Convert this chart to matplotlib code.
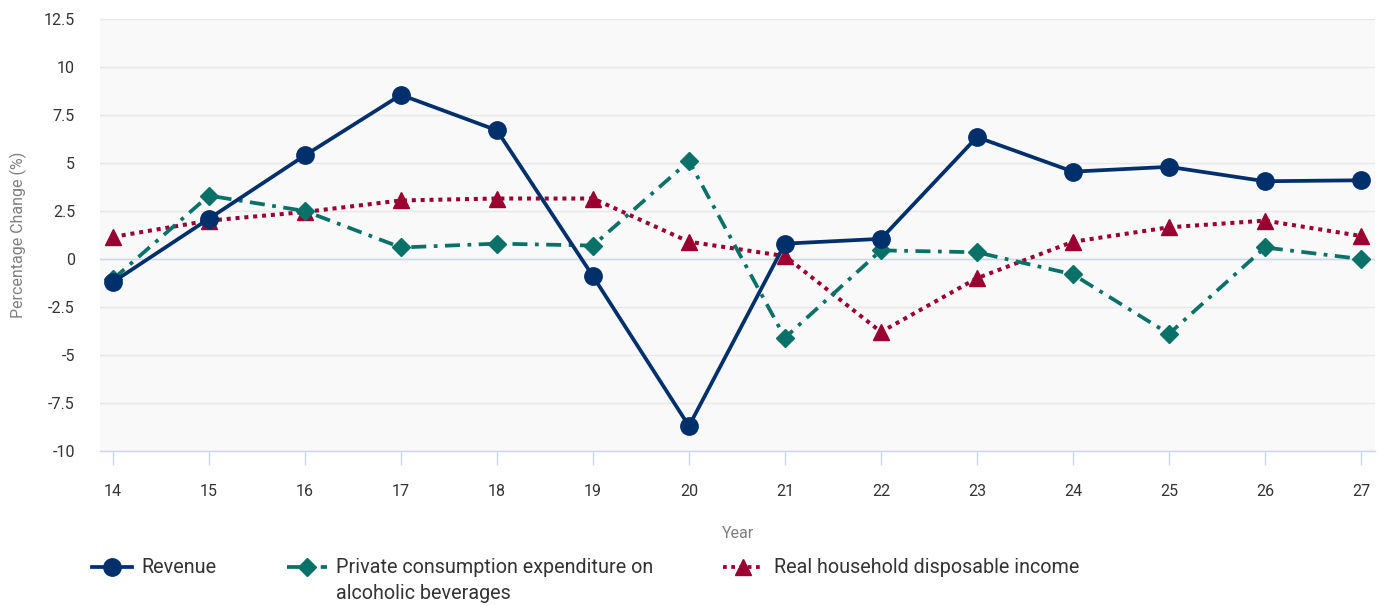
import matplotlib
matplotlib.use("Agg")
import matplotlib.pyplot as plt
from matplotlib.lines import Line2D

plt.rcParams['font.family'] = ['Roboto', 'DejaVu Sans']

years = [14, 15, 16, 17, 18, 19, 20, 21, 22, 23, 24, 25, 26, 27]
revenue = [-1.2, 2.1, 5.4, 8.55, 6.7, -0.9, -8.7, 0.8, 1.05, 6.35, 4.55, 4.8, 4.05, 4.1]
private_consumption = [-1.05, 3.3, 2.5, 0.6, 0.8, 0.7, 5.1, -4.1, 0.45, 0.35, -0.8, -3.9, 0.6, 0.0]
real_income = [1.15, 2.0, 2.45, 3.05, 3.15, 3.15, 0.9, 0.15, -3.8, -1.0, 0.9, 1.65, 2.0, 1.2]
yticks = [-10, -7.5, -5, -2.5, 0, 2.5, 5, 7.5, 10, 12.5]
ytick_labels = ["-10", "-7.5", "-5", "-2.5", "0", "2.5", "5", "7.5", "10", "12.5"]
labels = ["Revenue", "Private consumption expenditure on\nalcoholic beverages", "Real household disposable income"]

c_rev = "#00306b"
c_pce = "#0a7169"
c_inc = "#9b0033"

W, H = 1391, 606
fig = plt.figure(figsize=(W/100, H/100), dpi=100)
ax = fig.add_axes([100/W, 1-451/H, (1375-100)/W, (451-19)/H])
ax.set_facecolor("#f9f9fa")

ax.set_xlim(13.865, 27.146)
ax.set_ylim(-10, 12.5)
ax.set_yticks(yticks)
ax.set_yticklabels(ytick_labels)
ax.set_xticks(years)
ax.set_xticklabels([str(y) for y in years])
ax.grid(axis='y', color="#e8e8e8", linewidth=1.0)
ax.set_axisbelow(True)
ax.axhline(0, color="#ccd6eb", linewidth=1.0, zorder=1)
for s in ['top', 'right', 'left']:
    ax.spines[s].set_visible(False)
ax.spines['bottom'].set_color("#ccd6eb")
ax.spines['bottom'].set_linewidth(1.0)
ax.tick_params(axis='y', length=0, labelsize=11.5, labelcolor="#333333", pad=18)
ax.tick_params(axis='x', length=10, width=1, color="#ccd6eb", labelsize=11.5, labelcolor="#333333", pad=14)

pce_ls = (0, (4, 2, 1, 2))
inc_ls = (0, (1, 1.2))

ax.plot(years, revenue, color=c_rev, linewidth=2.7, marker='o', markersize=12.5, zorder=5, clip_on=False)
ax.plot(years, private_consumption, color=c_pce, linewidth=2.7, linestyle=pce_ls,
        marker='D', markersize=9.5, zorder=4, clip_on=False)
ax.plot(years, real_income, color=c_inc, linewidth=2.9, linestyle=inc_ls,
        marker='^', markersize=12, zorder=3, clip_on=False)

fig.text(18/W, 1-235/H, "Percentage Change (%)", rotation=90, ha='center', va='center',
         color="#7f7f7f", fontsize=11.5)
fig.text(738/W, 1-533/H, "Year", ha='center', va='center', color="#7f7f7f", fontsize=11.5)

# legend
entries = [
    (92, 141, c_rev, '-', 'o', 12.5, labels[0]),
    (287, 336, c_pce, pce_ls, 'D', 9.5, labels[1]),
    (723, 774, c_inc, inc_ls, '^', 12, labels[2]),
]
ly = 1 - 567/H
for x0, xt, col, ls, mk, ms, lab in entries:
    hx = [x0/W, (x0+40)/W]
    fig.add_artist(Line2D(hx, [ly, ly], color=col, linewidth=2.7, linestyle=ls, transform=fig.transFigure))
    fig.add_artist(Line2D([(x0+20)/W], [ly], color=col, marker=mk, markersize=ms, linestyle='none',
                          transform=fig.transFigure))
    fig.text(xt/W, 1-558/H, lab, ha='left', va='top', color="#333333", fontsize=14.2, linespacing=1.45)

fig.savefig("out.png", dpi=100, facecolor="white")
